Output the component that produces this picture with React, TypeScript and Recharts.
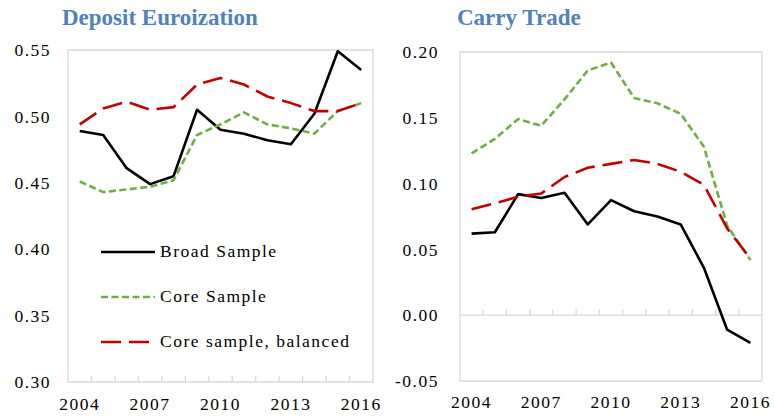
import React from 'react';
import { LineChart, Line, XAxis, YAxis, ReferenceArea, ReferenceLine } from 'recharts';

const YEARS = [2004, 2005, 2006, 2007, 2008, 2009, 2010, 2011, 2012, 2013, 2014, 2015, 2016];
const YEAR_LABELS = [2004, 2007, 2010, 2013, 2016];

// Deposit euroization
const EURO_BROAD = [0.489, 0.486, 0.461, 0.449, 0.455, 0.505, 0.49, 0.487, 0.482, 0.479, 0.502, 0.549, 0.535];
const EURO_CORE = [0.451, 0.443, 0.445, 0.447, 0.452, 0.486, 0.494, 0.503, 0.494, 0.491, 0.487, 0.504, 0.51];
const EURO_BALANCED = [0.494, 0.506, 0.511, 0.505, 0.507, 0.524, 0.529, 0.524, 0.515, 0.51, 0.504, 0.504, 0.51];
const EURO_TICKS = [0.3, 0.35, 0.4, 0.45, 0.5, 0.55];

// Carry trade
const CARRY_BROAD = [0.062, 0.063, 0.092, 0.089, 0.093, 0.069, 0.0875, 0.079, 0.075, 0.069, 0.036, -0.011, -0.021];
const CARRY_CORE = [0.123, 0.134, 0.149, 0.144, 0.164, 0.186, 0.192, 0.165, 0.161, 0.153, 0.128, 0.068, 0.042];
const CARRY_BALANCED = [0.0805, 0.085, 0.09, 0.0925, 0.105, 0.112, 0.115, 0.118, 0.115, 0.109, 0.099, 0.066, 0.043];
const CARRY_TICKS = [-0.05, 0, 0.05, 0.1, 0.15, 0.2];

const SERIES_NAMES = ['Broad Sample', 'Core Sample', 'Core sample, balanced'];

const FONT = "'Liberation Serif', 'Times New Roman', serif";
const BLACK = '#000000';
const GREEN = '#70ad47';
const RED = '#c00000';
const BORDER = '#d9d9d9';
const TITLE = '#4f81bd';
const TICK_LEN = 0.0045;

const SERIES_STYLE = [
  { key: 'broad', color: BLACK, dash: undefined },
  { key: 'core', color: GREEN, dash: '7 3.5' },
  { key: 'balanced', color: RED, dash: '20 8' },
];

const tickStyle = { fontSize: 17.5, fill: '#000', fontFamily: FONT, letterSpacing: 1.5 };

interface PanelProps {
  title: string;
  titleLeft: number;
  broad: number[];
  core: number[];
  balanced: number[];
  yTicks: number[];
  crossAtZero: boolean;
  left: number;
  plotLeft: number;
  plotTop: number;
  plotRight: number;
  xAxisHeight: number;
  xTickMargin: number;
  yTickMargin: number;
}

function Panel({
  title,
  titleLeft,
  broad,
  core,
  balanced,
  yTicks,
  crossAtZero,
  left,
  plotLeft,
  plotTop,
  plotRight,
  xAxisHeight,
  xTickMargin,
  yTickMargin,
}: PanelProps) {
  const data = YEARS.map((year, i) => ({
    year,
    broad: broad[i],
    core: core[i],
    balanced: balanced[i],
  }));
  const yMin = yTicks[0];
  const yMax = yTicks[yTicks.length - 1];
  const xMin = YEARS[0] - 0.5;
  const xMax = YEARS[YEARS.length - 1] + 0.5;
  const axisY = crossAtZero ? 0 : yMin;
  const boundaries = YEARS.slice(0, -1).map((y) => y + 0.5);

  return (
    <div style={{ position: 'absolute', left, top: 0 }}>
      <div
        style={{
          position: 'absolute',
          left: titleLeft,
          top: 6,
          fontFamily: FONT,
          fontWeight: 700,
          fontSize: 23,
          lineHeight: '23px',
          color: TITLE,
          whiteSpace: 'nowrap',
        }}
      >
        {title}
      </div>
      <LineChart
        width={390}
        height={417}
        data={data}
        margin={{ top: plotTop, right: 390 - plotRight, bottom: 0, left: 0 }}
      >
        <XAxis
          type="number"
          dataKey="year"
          domain={[xMin, xMax]}
          ticks={YEAR_LABELS}
          interval={0}
          tickLine={false}
          axisLine={false}
          height={xAxisHeight}
          tickMargin={xTickMargin}
          tick={tickStyle}
        />
        <YAxis
          type="number"
          domain={[yMin, yMax]}
          ticks={yTicks}
          interval={0}
          tickFormatter={(v: number) => v.toFixed(2)}
          tickLine={false}
          axisLine={false}
          width={plotLeft}
          tickMargin={yTickMargin}
          tick={tickStyle}
        />
        <ReferenceArea
          x1={xMin}
          x2={xMax}
          y1={yMin}
          y2={yMax}
          fill="none"
          fillOpacity={0}
          stroke={BORDER}
          strokeWidth={1.3}
        />
        {crossAtZero && <ReferenceLine y={0} stroke={BORDER} strokeWidth={1.3} />}
        {boundaries.map((b) => (
          <ReferenceLine
            key={b}
            segment={[
              { x: b, y: axisY },
              { x: b, y: axisY + TICK_LEN },
            ]}
            stroke={BORDER}
            strokeWidth={1.3}
          />
        ))}
        {SERIES_STYLE.map((s) => (
          <Line
            key={s.key}
            type="linear"
            dataKey={s.key}
            stroke={s.color}
            strokeWidth={2.6}
            strokeDasharray={s.dash}
            strokeLinejoin="round"
            dot={false}
            activeDot={false}
            isAnimationActive={false}
          />
        ))}
      </LineChart>
    </div>
  );
}

function LegendBox() {
  return (
    <div style={{ position: 'absolute', left: 101, top: 229, fontFamily: FONT }}>
      {SERIES_NAMES.map((name, i) => (
        <div key={name} style={{ height: 45, display: 'flex', alignItems: 'center' }}>
          <svg width={54} height={6} style={{ display: 'block' }}>
            <line
              x1={0}
              x2={54}
              y1={3}
              y2={3}
              stroke={SERIES_STYLE[i].color}
              strokeWidth={2.6}
              strokeDasharray={SERIES_STYLE[i].dash}
            />
          </svg>
          <span
            style={{
              marginLeft: 5,
              fontSize: 17.5,
              letterSpacing: 1.5,
              color: '#000',
              whiteSpace: 'nowrap',
            }}
          >
            {name}
          </span>
        </div>
      ))}
    </div>
  );
}

export default function App() {
  return (
    <div
      style={{
        position: 'absolute',
        left: 0,
        top: 0,
        width: 775,
        height: 417,
        background: '#fff',
        overflow: 'hidden',
      }}
    >
      <Panel
        title="Deposit Euroization"
        titleLeft={62}
        broad={EURO_BROAD}
        core={EURO_CORE}
        balanced={EURO_BALANCED}
        yTicks={EURO_TICKS}
        crossAtZero={false}
        left={0}
        plotLeft={68}
        plotTop={50}
        plotRight={373}
        xAxisHeight={35}
        xTickMargin={10}
        yTickMargin={11}
      />
      <Panel
        title="Carry Trade"
        titleLeft={72}
        broad={CARRY_BROAD}
        core={CARRY_CORE}
        balanced={CARRY_BALANCED}
        yTicks={CARRY_TICKS}
        crossAtZero={true}
        left={385}
        plotLeft={75}
        plotTop={52}
        plotRight={377}
        xAxisHeight={36}
        xTickMargin={9}
        yTickMargin={15}
      />
      <LegendBox />
    </div>
  );
}
